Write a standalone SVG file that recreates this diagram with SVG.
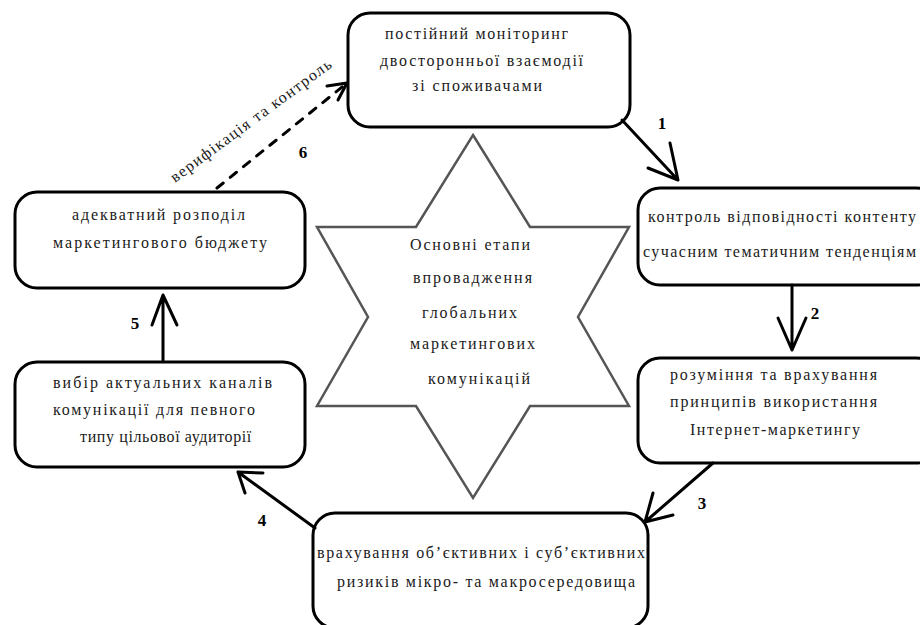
<svg xmlns="http://www.w3.org/2000/svg" width="920" height="625" viewBox="0 0 920 625">
<style>
.box{fill:#fff;stroke:#000;stroke-width:3}
text{font-family:'Liberation Serif','Times New Roman','DejaVu Serif',serif;font-size:16px;fill:#1a1a1a}
.num{font-size:17px;font-weight:bold;fill:#000;text-anchor:middle}
.ln{fill:none;stroke:#000;stroke-width:3;stroke-linecap:round;stroke-linejoin:round}
.star{fill:#fff;stroke:#555;stroke-width:2.5}
</style>
<rect width="920" height="625" fill="#fff"/>
<g id="star">
<polygon class="star" points="473,135 530,227 629,227 578,317 629,406 530,406 473,498 416,406 317,406 368,317 317,227 416,227"/>
<text x="410" y="250" textLength="120" lengthAdjust="spacing">Основні етапи</text>
<text x="413" y="283" textLength="119" lengthAdjust="spacing">впровадження</text>
<text x="422" y="318" textLength="95" lengthAdjust="spacing">глобальних</text>
<text x="410" y="349" textLength="125" lengthAdjust="spacing">маркетингових</text>
<text x="428" y="384" textLength="102" lengthAdjust="spacing">комунікацій</text>
</g>
<g id="n1">
<rect class="box" x="348" y="13" width="282" height="114" rx="22"/>
<text x="385" y="39" textLength="183" lengthAdjust="spacing">постійний моніторинг</text>
<text x="380" y="66" textLength="203" lengthAdjust="spacing">двосторонньої взаємодії</text>
<text x="412" y="91" textLength="130" lengthAdjust="spacing">зі споживачами</text>
</g>
<g id="n2">
<rect class="box" x="638" y="188" width="300" height="97" rx="22"/>
<text x="648" y="222" textLength="268" lengthAdjust="spacing">контроль відповідності контенту</text>
<text x="643" y="257" textLength="273" lengthAdjust="spacing">сучасним тематичним тенденціям</text>
</g>
<g id="n3">
<rect class="box" x="638" y="358" width="300" height="105" rx="22"/>
<text x="670" y="380" textLength="207" lengthAdjust="spacing">розуміння та врахування</text>
<text x="670" y="407" textLength="207" lengthAdjust="spacing">принципів використання</text>
<text x="690" y="435" textLength="170" lengthAdjust="spacing">Інтернет-маркетингу</text>
</g>
<g id="n4">
<rect class="box" x="313" y="513" width="335" height="115" rx="22"/>
<text x="317" y="558" textLength="328" lengthAdjust="spacing">врахування об’єктивних і суб’єктивних</text>
<text x="337" y="587" textLength="298" lengthAdjust="spacing">ризиків мікро- та макросередовища</text>
</g>
<g id="n5">
<rect class="box" x="15" y="362" width="290" height="105" rx="22"/>
<text x="53" y="388" textLength="219" lengthAdjust="spacing">вибір актуальних каналів</text>
<text x="53" y="415" textLength="202" lengthAdjust="spacing">комунікації для певного</text>
<text x="166" y="442" font-size="15" letter-spacing="0.6" text-anchor="middle">типу цільової аудиторії</text>
</g>
<g id="n6">
<rect class="box" x="15" y="192" width="290" height="96" rx="22"/>
<text x="72" y="220" textLength="173" lengthAdjust="spacing">адекватний розподіл</text>
<text x="53" y="248" textLength="214" lengthAdjust="spacing">маркетингового бюджету</text>
</g>
<g id="connectors">
<path class="ln" d="M622,120 L678,180 M670,143 L678,180 L648,168"/>
<path class="ln" d="M792,285 L792,350 M778,318 L792,350 L806,318"/>
<path class="ln" d="M713,463 L645,522 M653,493 L645,522 L673,515"/>
<path class="ln" d="M315,528 L238,472 M263,473 L238,472 L245,493"/>
<path class="ln" d="M163,360 L163,295 M152,325 L163,295 L177,325"/>
<path class="ln" d="M217,188 L347,83" stroke-dasharray="8 9" stroke-linecap="butt"/>
<path class="ln" d="M327,86 L347,83 L338,100"/>
<text class="num" x="662" y="129">1</text>
<text class="num" x="815" y="319">2</text>
<text class="num" x="702" y="509">3</text>
<text class="num" x="262" y="526">4</text>
<text class="num" x="135" y="329">5</text>
<text class="num" x="303" y="158">6</text>
<text transform="translate(175,183) rotate(-36.4)" x="0" y="0" font-size="15" textLength="196" lengthAdjust="spacing">верифікація та контроль</text>
</g>
</svg>
